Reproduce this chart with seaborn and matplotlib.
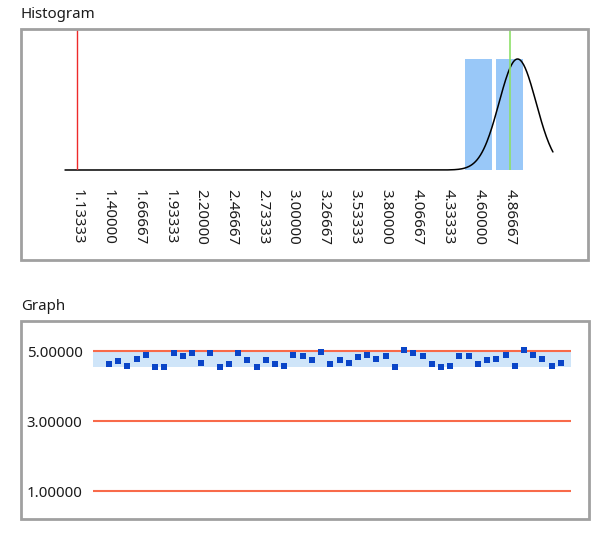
import numpy as np
import pandas as pd
import matplotlib
matplotlib.use("Agg")
import matplotlib.pyplot as plt
import seaborn as sns
from matplotlib.patches import Rectangle

# ---------------- data ----------------
hist_tick_values = [1.13333, 1.40000, 1.66667, 1.93333, 2.20000, 2.46667, 2.73333,
                    3.00000, 3.26667, 3.53333, 3.80000, 4.06667, 4.33333, 4.60000, 4.86667]
hist_tick_labels = [f"{v:.5f}" for v in hist_tick_values]
hist_bin_edges = [4.46667, 4.73333, 5.00000]
hist_bin_centers = [4.60000, 4.86667]
hist_counts = [25, 25]
lower_limit = 1.13333      # red line
center_value = 4.86667     # green line
curve_mean = 4.935
curve_sd = 0.16
curve_peak = 25
curve_start, curve_end = 1.03, 5.24

graph_values = [4.62, 4.71, 4.58, 4.78, 4.90, 4.54, 4.54, 4.94, 4.86, 4.94,
                4.66, 4.94, 4.54, 4.62, 4.94, 4.74, 4.54, 4.74, 4.62, 4.58,
                4.90, 4.86, 4.74, 4.98, 4.62, 4.74, 4.66, 4.82, 4.90, 4.78,
                4.86, 4.54, 5.02, 4.94, 4.86, 4.62, 4.54, 4.58, 4.86, 4.86,
                4.62, 4.74, 4.78, 4.90, 4.58, 5.02, 4.90, 4.78, 4.58, 4.66]
graph_limits = [5.0, 3.0, 1.0]
graph_limit_labels = ["5.00000", "3.00000", "1.00000"]
band_low, band_high = 4.5333, 5.0

# ---------------- figure ----------------
sns.set_style("white")
plt.rcParams["font.family"] = ["Noto Sans", "DejaVu Sans"]

W, H = 613, 540
fig = plt.figure(figsize=(W / 100, H / 100), dpi=100)
fig.patch.set_facecolor("white")


def rect(l, t, r, b):
    return [l / W, 1 - b / H, (r - l) / W, (b - t) / H]


def frame(l, t, r, b):
    fig.add_artist(Rectangle((l / W, 1 - b / H), (r - l) / W, (b - t) / H,
                             transform=fig.transFigure, fill=False,
                             edgecolor="#a0a0a0", lw=2.0))


text_color = "#1b1b1b"
fs = 10.8

# ---------- Histogram panel ----------
fig.text(20 / W, 1 - 15 / H, "Histogram", ha="left", va="center",
         fontsize=fs, color=text_color)
frame(20.5, 28.5, 588, 259.5)

ax1 = fig.add_axes(rect(22, 30, 587, 170))
ax1.set_xlim(0.6588, 5.534)
ax1.set_ylim(0, 31.53)

sns.histplot(x=hist_bin_centers, weights=hist_counts, bins=hist_bin_edges,
             shrink=0.87, color="#99c8f8", alpha=1, linewidth=0, ax=ax1)

xs = np.linspace(curve_start, curve_end, 600)
ys = curve_peak * np.exp(-0.5 * ((xs - curve_mean) / curve_sd) ** 2)
sns.lineplot(x=xs, y=ys, color="black", linewidth=1.1, ax=ax1, clip_on=False)

ax1.axvline(lower_limit, color="#ee2a2a", lw=1.0)
ax1.axvline(center_value, color="#8ee06a", lw=1.2)

ax1.set_xticks(hist_tick_values)
ax1.set_xticklabels(hist_tick_labels, rotation=-90, fontsize=fs, color=text_color)
ax1.tick_params(axis="x", length=0, pad=13.5)
ax1.set_yticks([])
ax1.set_xlabel("")
ax1.set_ylabel("")
for s in ax1.spines.values():
    s.set_visible(False)
ax1.set_facecolor("none")

# ---------- Graph panel ----------
fig.text(21 / W, 1 - 307 / H, "Graph", ha="left", va="center",
         fontsize=fs, color=text_color)
frame(21, 321, 589, 519)

ax2 = fig.add_axes(rect(93, 322, 571, 518))
ax2.set_xlim(-1.735, 50.1)
ax2.set_ylim(0.229, 5.829)

ax2.axhspan(band_low, band_high, color="#cfe5f9", lw=0)
for v in graph_limits:
    ax2.axhline(v, color="#f86a4a", lw=1.5)

df = pd.DataFrame({"idx": np.arange(len(graph_values)), "val": graph_values})
sns.scatterplot(data=df, x="idx", y="val", marker="s", s=17, color="#0a45c8",
                linewidth=0, ax=ax2, zorder=5)

ax2.set_yticks(graph_limits)
ax2.set_yticklabels(graph_limit_labels, fontsize=fs, color=text_color)
ax2.tick_params(axis="y", length=0, pad=7.5)
ax2.set_xticks([])
ax2.set_xlabel("")
ax2.set_ylabel("")
for s in ax2.spines.values():
    s.set_visible(False)
ax2.set_facecolor("none")

fig.savefig("out.png", dpi=100, facecolor="white")
